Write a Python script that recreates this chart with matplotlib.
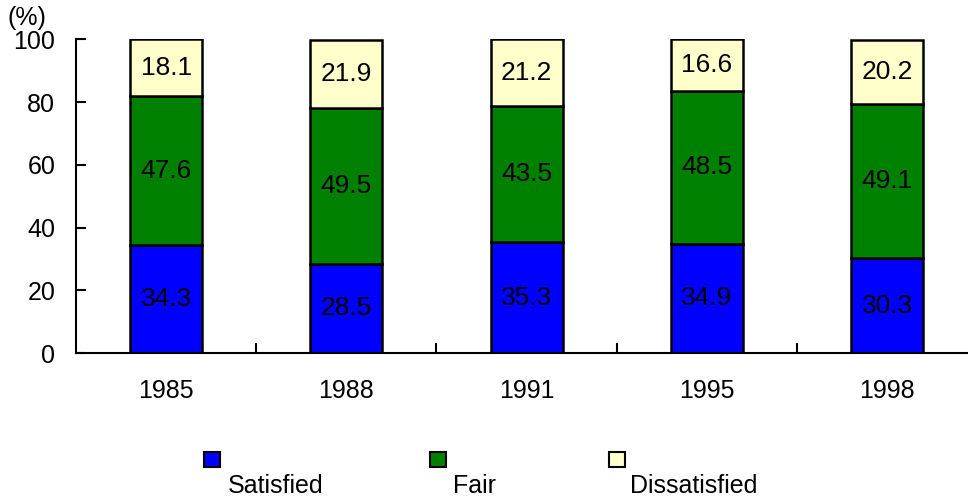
import matplotlib.pyplot as plt
from matplotlib.patches import Rectangle

plt.rcParams['font.family'] = ['Liberation Sans', 'DejaVu Sans']

years = ['1985', '1988', '1991', '1995', '1998']
satisfied = [34.3, 28.5, 35.3, 34.9, 30.3]
fair = [47.6, 49.5, 43.5, 48.5, 49.1]
dissatisfied = [18.1, 21.9, 21.2, 16.6, 20.2]
names = ['Satisfied', 'Fair', 'Dissatisfied']
colors = ['#0000ff', '#008000', '#ffffcc']

fig = plt.figure(figsize=(9.68, 5.03), dpi=100)
ax = fig.add_axes([0.0785, 0.298, 0.931, 0.624])

x = list(range(len(years)))
bottom = [0] * len(years)
for vals, col in zip([satisfied, fair, dissatisfied], colors):
    ax.bar(x, vals, width=0.4, bottom=bottom, color=col, edgecolor='black', linewidth=1.8)
    for i, v in enumerate(vals):
        ax.text(x[i], bottom[i] + v / 2, f'{v:.1f}', ha='center', va='center', fontsize=19)
    bottom = [b + v for b, v in zip(bottom, vals)]

ax.set_xlim(-0.5, 4.5)
ax.set_ylim(0, 100)
ax.set_yticks(range(0, 101, 20))
ax.set_xticks(x)
ax.set_xticklabels(years)
ax.set_xticks([i + 0.5 for i in range(len(years) - 1)], minor=True)
ax.tick_params(axis='x', which='major', length=0, labelsize=18, pad=19)
ax.tick_params(axis='x', which='minor', direction='in', length=7, width=1.5)
ax.tick_params(axis='y', direction='in', length=7, width=1.5, labelsize=18, pad=15)
for s in ['top', 'right']:
    ax.spines[s].set_visible(False)
for s in ['left', 'bottom']:
    ax.spines[s].set_linewidth(1.5)
fig.text(0.008, 0.94, '(%)', fontsize=18, ha='left', va='bottom')

# legend: square above, name below
sq_x = [0.2105, 0.444, 0.629]
lab_x = [0.285, 0.49, 0.717]
for sx, lx, name, col in zip(sq_x, lab_x, names, colors):
    fig.patches.append(Rectangle((sx, 0.072), 0.0165, 0.03, transform=fig.transFigure,
                                 facecolor=col, edgecolor='black', linewidth=1.5))
    fig.text(lx, 0.034, name, fontsize=18, ha='center', va='center')

fig.savefig('out.png')
